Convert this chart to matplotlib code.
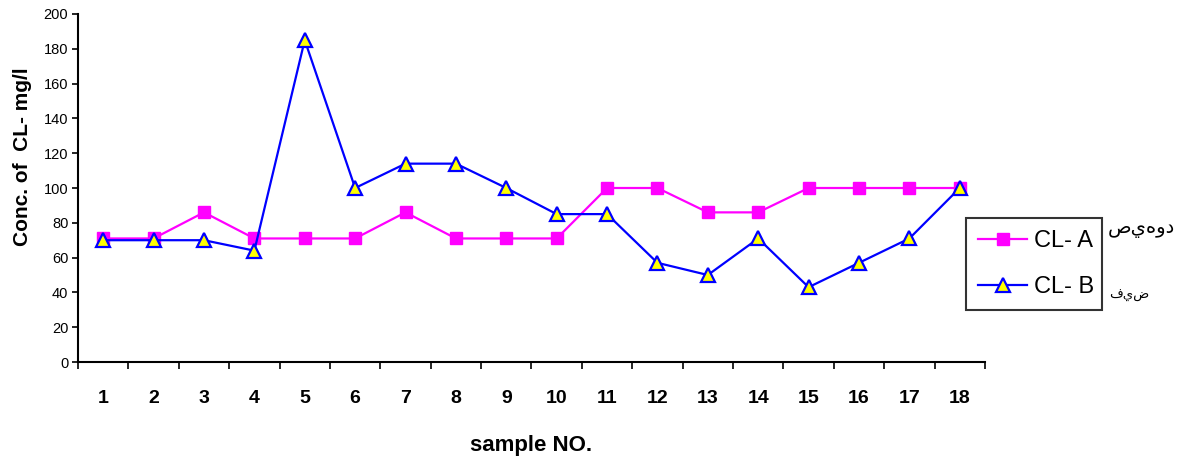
import numpy as np
import matplotlib.pyplot as plt

# Data
samples = list(range(1, 19))
cl_a = [71, 71, 86, 71, 71, 71, 86, 71, 71, 71, 100, 100, 86, 86, 100, 100, 100, 100]
cl_b = [70, 70, 70, 64, 185, 100, 114, 114, 100, 85, 85, 57, 50, 71, 43, 57, 71, 100]
y_ticks = list(range(0, 201, 20))

plt.rcParams['font.family'] = ['Liberation Sans', 'DejaVu Sans']

fig = plt.figure(figsize=(11.8, 4.59), dpi=100)
ax = fig.add_axes([0.0661, 0.2113, 0.7686, 0.7582])

ax.plot(samples, cl_a, color='#ff00ff', lw=1.6, marker='s', ms=8.5,
        mfc='#ff00ff', mec='#ff00ff', label='CL- A', clip_on=False)
ax.plot(samples, cl_b, color='#0000ff', lw=1.6, marker='^', ms=9.5,
        mfc='#ffff00', mec='#0000ff', mew=1.6, label='CL- B', clip_on=False)

ax.set_xlim(0.5, 18.5)
ax.set_ylim(0, 200)
ax.set_yticks(y_ticks)
ax.tick_params(axis='y', labelsize=10.5, length=4, width=1.2, direction='out', pad=3)

# tick marks sit between categories, labels on the categories
ax.set_xticks(np.arange(0.5, 19, 1))
ax.set_xticklabels([])
ax.set_xticks(samples, minor=True)
ax.set_xticklabels([str(s) for s in samples], minor=True, fontsize=14, fontweight='bold')
ax.tick_params(axis='x', which='major', length=5, width=1.2, direction='out')
ax.tick_params(axis='x', which='minor', length=0, pad=20)

for side in ['top', 'right']:
    ax.spines[side].set_visible(False)
for side in ['left', 'bottom']:
    ax.spines[side].set_linewidth(1.5)

ax.set_xlabel('sample NO.', fontsize=16, fontweight='bold', labelpad=20)
ax.set_ylabel('Conc. of  CL- mg/l', fontsize=15, fontweight='bold')
ax.yaxis.set_label_coords(-0.051, 0.589)

leg = fig.legend(loc='upper left', bbox_to_anchor=(0.8186, 0.525, 0.1154, 0.0),
                 mode='expand', fontsize=17, frameon=True, fancybox=False,
                 handlelength=2.1, handletextpad=0.3, borderpad=0.5,
                 labelspacing=1.03, borderaxespad=0)
leg.get_frame().set_edgecolor('black')
leg.get_frame().set_linewidth(1.5)

fig.text(0.996, 0.503, 'صيهود', fontsize=14, ha='right', va='center', family=['DejaVu Sans'])
fig.text(0.957, 0.357, 'فيض', fontsize=9.5, ha='center', va='center', family=['DejaVu Sans'])

fig.savefig('out.png', dpi=100)
